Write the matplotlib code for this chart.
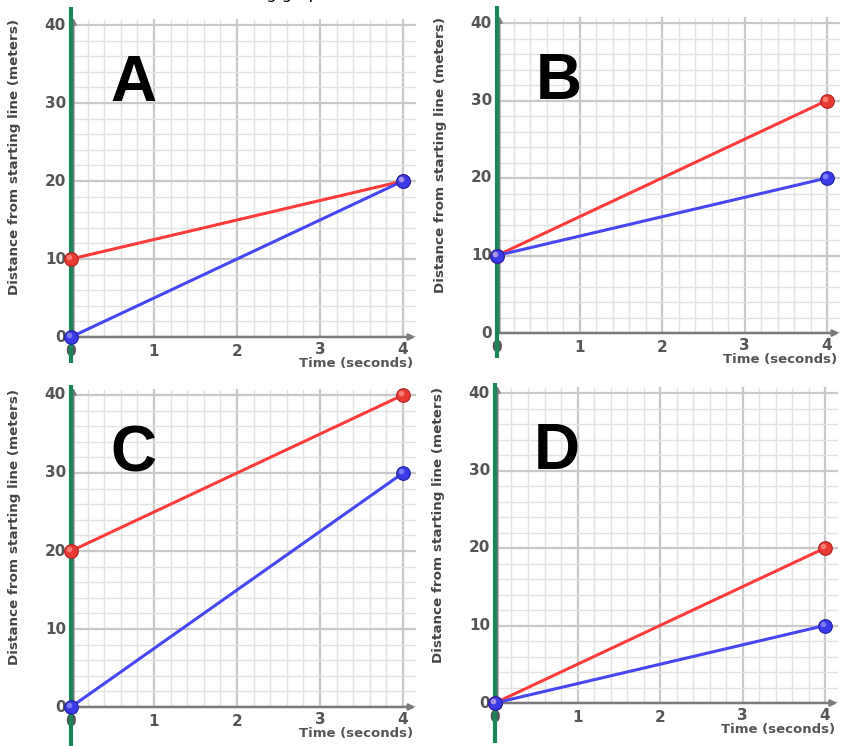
import numpy as np
import matplotlib.pyplot as plt
import matplotlib.transforms as mtransforms

# data: two runners per panel, position at t=0 and t=4
times = [0, 4]
panel_names = ["A", "B", "C", "D"]
red_dist = [[10, 20], [10, 30], [20, 40], [0, 20]]
blue_dist = [[0, 20], [10, 20], [0, 30], [0, 10]]
x_ticks = [0, 1, 2, 3, 4]
y_ticks = [0, 10, 20, 30, 40]
xlab = "Time (seconds)"
ylab = "Distance from starting line (meters)"
top_text = "Use the following graphs"

W, H = 842, 746
# pixel position of (0,0) and (4,40) in each panel
corners = [(71, 403, 337, 25), (497, 827, 333, 23),
           (71, 403, 707, 395), (495, 825, 703, 393)]
green_span = [(42.3, -3.3), (42.2, -3.2), (41.3, -5.2), (41.3, -5.2)]

RED = "#ff3b3b"
BLUE = "#4646f5"
GREEN = "#17875a"

fig = plt.figure(figsize=(W / 100, H / 100), dpi=100)
fig.patch.set_facecolor("white")

# question text above the charts, only its bottom shows in the crop
fig.text(138 / W, 1 + 0.5 / H, top_text, fontsize=11.5, ha="left",
         va="baseline", color="black")

XMAX, YMAX = 4.2, 41.5


def sphere(ax, x, y, col, edge, light):
    ax.plot(x, y, "o", ms=9.8, color=col, mec=edge, mew=0.8, zorder=6,
            clip_on=False)
    tr = mtransforms.offset_copy(ax.transData, fig=fig, x=-1.6, y=1.6,
                                 units="dots")
    ax.plot(x, y, "o", ms=4, color=light, mec="none", alpha=0.7, zorder=7,
            transform=tr, clip_on=False)


for i, name in enumerate(panel_names):
    x0p, x4p, y0p, y40p = corners[i]
    sx = (x4p - x0p) / 4.0
    sy = (y0p - y40p) / 40.0
    ax = fig.add_axes([x0p / W, 1 - y0p / H, sx * XMAX / W, sy * YMAX / H])
    ax.set_xlim(0, XMAX)
    ax.set_ylim(0, YMAX)
    ax.axis("off")

    # grid paper
    for gx in np.arange(0, 4.01, 0.2):
        major = abs(gx - round(gx)) < 1e-6
        ax.plot([gx, gx], [0, 40.7], color="#c8c8c8" if major else "#e2e2e2",
                lw=1.6 if major else 1.0, zorder=1)
    for gy in np.arange(0, 40.01, 2):
        major = abs(gy % 10) < 1e-6
        ax.plot([0, 4.14], [gy, gy], color="#c8c8c8" if major else "#e2e2e2",
                lw=1.6 if major else 1.0, zorder=1)

    # axes arrows
    ax.annotate("", xy=(4.15, 0), xytext=(0, 0),
                arrowprops=dict(arrowstyle="-|>", color="#7a7a7a", lw=1.8,
                                mutation_scale=9, shrinkA=0, shrinkB=0),
                zorder=2, annotation_clip=False)
    ax.annotate("", xy=(0.03, 40.9), xytext=(0.03, 0),
                arrowprops=dict(arrowstyle="-|>", color="#7a7a7a", lw=1.5,
                                mutation_scale=8, shrinkA=0, shrinkB=0),
                zorder=2, annotation_clip=False)
    g0, g1 = green_span[i]
    ax.plot([0, 0], [g1, g0], color=GREEN, lw=3, zorder=4, clip_on=False,
            solid_capstyle="butt")

    # ticks
    for t in y_ticks:
        ax.text(-0.06, t, str(t), ha="right", va="center", fontsize=11,
                color="#555555", fontweight="bold")
    for t in x_ticks:
        yy = -1.6 if t >= 3 else -1.9
        ax.text(t, yy, str(t), ha="center", va="center", fontsize=11,
                color="#555555", fontweight="bold")
    ax.text(4.12, -3.45, xlab, ha="right", va="center", fontsize=9.5,
            color="#555555", fontweight="bold")
    ax.text(-0.68, 40.8, ylab, ha="center", va="top", rotation=90,
            fontsize=9.7, color="#444444", fontweight="bold")

    # panel letter
    ax.text(0.47, 30.2, name, ha="left", va="baseline", fontsize=46,
            fontweight="bold", family="Liberation Sans", color="black")

    # runners
    ax.plot(times, red_dist[i], color=RED, lw=2.2, zorder=5,
            solid_capstyle="round")
    ax.plot(times, blue_dist[i], color=BLUE, lw=2.2, zorder=5,
            solid_capstyle="round")
    sphere(ax, times, red_dist[i], "#e83a32", "#b02020", "#ff9a90")
    sphere(ax, times, blue_dist[i], "#3a3ae6", "#2020a8", "#9a9aff")

fig.savefig("out.png", dpi=100, facecolor="white")
